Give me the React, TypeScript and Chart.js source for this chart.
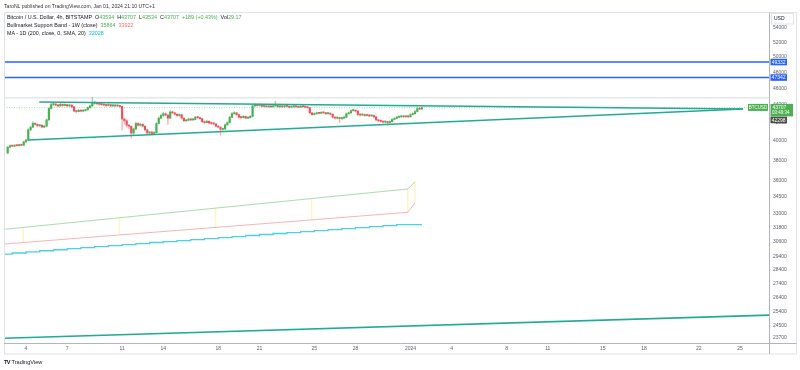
import React, { useEffect, useRef } from "react";
import { Chart, registerables } from "chart.js";
Chart.register(...registerables);

// ---- Candles (4h bars, BTC/USD Bitstamp) ----
const firstOpen = 38750;
const closes = [
  39350, 39500, 39450, 39550, 39500, 39600, 39550, 39900, 40100, 41200,
  41500, 41900, 41800, 41650, 41700, 41500, 41600, 42300, 43600, 44050,
  44100, 44000, 43900, 44100, 43950, 44050, 43900, 44000, 43800, 43300,
  43250, 43400, 43300, 43350, 43450, 43700, 43900, 44200, 44300, 44150,
  44100, 44050, 44000, 43950, 44050, 43900, 44000, 43900, 43950, 43850,
  42400, 42200, 41700, 41600, 40850, 41300, 41900, 41700, 41800, 41600,
  41200, 40850, 40950, 40800, 40900, 41900, 42500, 42800, 43000, 42850,
  42500, 43200, 43100, 42950, 42800, 42900, 42500, 42200, 42250, 42400,
  42300, 42350, 42600, 42550, 42450, 42100, 42000, 42150, 41950, 41900,
  41850, 41600, 41500, 41250, 41300, 41750, 42000, 42600, 43000, 43100,
  42900, 42600, 42550, 42700, 42500, 42550, 42700, 43900, 44000, 43950,
  44050, 43850, 43900, 43800, 43850, 43800, 43900, 43950, 43800, 43850,
  43800, 43900, 43850, 43750, 43800, 43850, 43800, 43750, 43850, 43800,
  43750, 43700, 43100, 42900, 43000, 43100, 43050, 43150, 43100, 43000,
  43050, 42950, 42600, 42500, 42550, 42450, 42500, 42600, 43000, 43100,
  43350, 43400, 43300, 42900, 42850, 42900, 42800, 42850, 42750, 42800,
  42650, 42300, 42200, 42150, 42050, 42100, 42000, 42100, 42350, 42450,
  42600, 42650, 42700, 42650, 42700, 42650, 42900, 43000, 43250, 43600,
  43534, 43707,
];
const highs = [
  39420, 39580, 39560, 39620, 39600, 39680, 39650, 39980, 40200, 41350,
  41600, 42100, 42000, 41850, 41800, 41750, 41700, 42400, 43700, 44200,
  44250, 44200, 44100, 44200, 44150, 44150, 44100, 44100, 44050, 43850,
  43400, 43500, 43450, 43450, 43550, 43800, 44000, 44900, 44450, 44350,
  44250, 44200, 44150, 44100, 44150, 44100, 44100, 44050, 44050, 44000,
  43900, 42500, 42300, 41800, 41650, 41400, 42050, 42000, 41950, 41900,
  41650, 41250, 41050, 41050, 41000, 42000, 42650, 42950, 43200, 43100,
  42900, 43350, 43300, 43150, 43000, 43000, 42950, 42550, 42350, 42500,
  42450, 42450, 42700, 42700, 42600, 42500, 42200, 42250, 42200, 42050,
  42000, 41900, 41700, 41550, 41400, 41850, 42100, 42700, 43150, 43250,
  43150, 42950, 42700, 42800, 42750, 42650, 42800, 44000, 44150, 44100,
  44150, 44100, 44000, 43950, 43950, 43900, 44000, 44450, 44000, 43950,
  43900, 44000, 43950, 43900, 43900, 43950, 43900, 43850, 43950, 43900,
  43850, 43800, 43750, 43150, 43100, 43200, 43150, 43250, 43200, 43150,
  43150, 43100, 43000, 42650, 42650, 42600, 42600, 42700, 43100, 43200,
  43450, 43500, 43450, 43350, 42950, 43000, 42950, 42950, 42900, 42900,
  42850, 42700, 42350, 42300, 42200, 42200, 42150, 42200, 42450, 42550,
  42700, 42750, 42800, 42750, 42800, 42750, 43000, 43100, 43350, 43750,
  43650, 43707,
];
const lows = [
  38650, 39300, 39400, 39400, 39450, 39450, 39480, 39500, 39850, 40050,
  41100, 41450, 41700, 41500, 41550, 41400, 41450, 41550, 42250, 43550,
  43950, 43900, 43800, 43850, 43850, 43900, 43800, 43850, 43700, 43200,
  43100, 43200, 43200, 43250, 43300, 43400, 43650, 43850, 44100, 44050,
  44000, 43950, 43900, 43850, 43900, 43800, 43850, 43800, 43850, 43750,
  41200, 41800, 41500, 41300, 40300, 40700, 41200, 41600, 41600, 41500,
  41100, 40700, 40750, 40650, 40700, 40850, 41850, 42400, 42700, 42750,
  41800, 42450, 43000, 42850, 42700, 42700, 42400, 42100, 42100, 42200,
  42200, 42250, 42300, 42450, 42350, 42000, 41900, 41950, 41850, 41800,
  41750, 41500, 41400, 40600, 41150, 41250, 41700, 41950, 42550, 42950,
  42800, 42500, 42450, 42500, 42400, 42450, 42500, 42650, 43850, 43850,
  43900, 43800, 43800, 43750, 43750, 43700, 43750, 43850, 43750, 43750,
  43700, 43750, 43800, 43700, 43700, 43750, 43750, 43700, 43700, 43750,
  43700, 43650, 43000, 42800, 42850, 42950, 42950, 43000, 43050, 42900,
  42950, 42900, 42500, 42400, 42400, 42000, 42350, 42450, 42550, 42950,
  43050, 43300, 43200, 42800, 42750, 42800, 42700, 42750, 42650, 42700,
  42550, 42200, 42100, 42050, 41950, 42000, 41700, 41950, 42050, 42300,
  42400, 42550, 42600, 42550, 42600, 42550, 42600, 42850, 42950, 43200,
  43450, 43534,
];
// time axis: days since Dec 1 2023 00:00
const barStartDay = 1 + 16 / 24; // Dec 2 16:00
const barHours = 4;

// ---- Axis ----
const xMin = 1.398;
const xMax = 57.11;
const yMin = 23385;
const yMax = 56345;
const xTickDays = [3, 6, 10, 13, 17, 20, 24, 27, 31, 34, 38, 41, 45, 48, 52, 55];
const xTickLabels = ["4", "7", "11", "14", "18", "21", "25", "28", "2024", "4", "8", "11", "15", "18", "22", "25"];
const yTickValues = [54000, 52000, 50000, 48000, 46000, 44000, 42000, 40000, 38000, 36000, 34500, 33000, 31800, 30600, 29400, 28400, 27400, 26400, 25400, 24500, 23700];

// ---- Indicators ----
const maDays = [0, 1, 2, 3, 4, 5, 6, 7, 8, 9, 10, 11, 12, 13, 14, 15, 16, 17, 18, 19, 20, 21, 22, 23, 24, 25, 26, 27, 28, 29, 30, 31, 31.833];
const maValues = [29450, 29540, 29615, 29700, 29790, 29880, 29960, 30045, 30130, 30210, 30290, 30370, 30455, 30540, 30620, 30700, 30780, 30860, 30945, 31030, 31115, 31200, 31280, 31360, 31440, 31520, 31605, 31690, 31775, 31860, 31945, 32028, 32028];
const bandDays = [1.398, 2.8, 9.8, 16.8, 23.8, 30.8, 31.33];
const bandGreen = [31634, 31790, 32615, 33460, 34323, 35208, 35864];
const bandRed = [30420, 30540, 31158, 31790, 32432, 33096, 33922];

// ---- Drawings ----
const upperDays = [3.97, 55.22];
const upperPrices = [44361, 43546];
const lowerDays = [3.146, 55.22];
const lowerPrices = [40100, 43546];
const baseDays = [1.398, 57.11];
const basePrices = [23680, 25180];
const blueLevels = [49332, 47342];
const faintLevel = 44850;
const lastPrice = 43707;
const greyTag = 42298;
const countdown = "03:49:34";

const UP = "#4caf50";
const DOWN = "#f0505a";
const TEAL = "#22ab94";
const FONT = '"Liberation Sans", Arial, sans-serif';

const overlayPlugin = {
  id: "overlay",
  afterDraw(chart: any) {
    const { ctx, scales } = chart;
    const ys = scales.y;
    ctx.save();
    ctx.lineWidth = 1;
    ctx.strokeStyle = "#e0e3eb";
    ctx.strokeRect(4.5, 12.5, 792, 341.5);
    ctx.strokeStyle = "#b2b5be";
    ctx.beginPath();
    ctx.moveTo(769.5, 12.5);
    ctx.lineTo(769.5, 354);
    ctx.moveTo(4, 343.5);
    ctx.lineTo(796.5, 343.5);
    ctx.stroke();
    // USD box
    ctx.fillStyle = "#ffffff";
    ctx.fillRect(771, 13.5, 22, 10.5);
    ctx.strokeStyle = "#e0e3eb";
    ctx.strokeRect(771.5, 13.5, 22, 10.5);
    ctx.fillStyle = "#131722";
    ctx.font = `5px ${FONT}`;
    ctx.textBaseline = "middle";
    ctx.textAlign = "left";
    ctx.fillText("USD", 774, 19);

    const tag = (v: number, bg: string, t: string) => {
      const py = ys.getPixelForValue(v);
      ctx.fillStyle = bg;
      ctx.fillRect(770.5, py - 3.3, 16.5, 6.6);
      ctx.fillStyle = "#ffffff";
      ctx.textAlign = "center";
      ctx.fillText(t, 778.7, py + 0.2);
    };
    blueLevels.forEach((v) => tag(v, "#2962ff", String(v)));
    tag(greyTag, "#4a4a4a", String(greyTag));
    // last price tag with countdown
    const py = ys.getPixelForValue(lastPrice);
    ctx.fillStyle = UP;
    ctx.fillRect(770.5, py - 3.7, 22.5, 12.5);
    ctx.fillStyle = "#ffffff";
    ctx.textAlign = "left";
    ctx.fillText(String(lastPrice), 772.5, py + 0.2);
    ctx.font = `4.5px ${FONT}`;
    ctx.fillText(countdown, 772, py + 5.6);
    // symbol label
    ctx.fillStyle = UP;
    ctx.fillRect(748, py - 3.7, 20, 7);
    ctx.fillStyle = "#ffffff";
    ctx.textAlign = "center";
    ctx.font = `4.5px ${FONT}`;
    ctx.fillText("BTCUSD", 758, py);
    ctx.restore();
  },
};

function pts(xs: number[], ys: number[]) {
  return xs.map((x, i) => ({ x, y: ys[i] }));
}

function Legend() {
  const base: React.CSSProperties = {
    position: "absolute",
    left: 7,
    fontFamily: FONT,
    fontSize: "5.4px",
    lineHeight: "6px",
    whiteSpace: "nowrap",
    color: "#131722",
  };
  const g = { color: UP };
  return (
    <>
      <div style={{ ...base, left: 4, top: 3, fontSize: "5.1px", color: "#333" }}>
        TaroNL published on TradingView.com, Jan 01, 2024 21:10 UTC+1
      </div>
      <div style={{ ...base, top: 14.3 }}>
        Bitcoin / U.S. Dollar, 4h, BITSTAMP&nbsp; O<span style={g}>43534</span>&nbsp; H<span style={g}>43707</span>&nbsp; L<span style={g}>43534</span>&nbsp; C<span style={g}>43707</span>&nbsp; <span style={g}>+189 (+0.43%)</span>&nbsp; Vol<span style={g}>29.17</span>
      </div>
      <div style={{ ...base, top: 21.7 }}>
        Bullmarket Support Band - 1W (close)&nbsp; <span style={{ color: "#4caf50" }}>35864</span>&nbsp; <span style={{ color: "#f26b6b" }}>33922</span>
      </div>
      <div style={{ ...base, top: 29.7 }}>
        MA - 1D (200, close, 0, SMA, 20)&nbsp; <span style={{ color: "#00bcd4" }}>32028</span>
      </div>
      <div style={{ ...base, left: 4, top: 359, fontSize: "5.6px", color: "#131722" }}>
        <span style={{ fontWeight: 900, letterSpacing: "-0.6px" }}>TV</span>&nbsp;TradingView
      </div>
    </>
  );
}

export default function App() {
  const ref = useRef<HTMLCanvasElement | null>(null);
  useEffect(() => {
    document.body.style.margin = "0";
    const canvas = ref.current;
    if (!canvas) return;
    const opens = closes.map((c, i) => (i === 0 ? firstOpen : closes[i - 1]));
    const days = closes.map((_, i) => barStartDay + (i * barHours) / 24);
    const colors = closes.map((c, i) => (c >= opens[i] ? UP : DOWN));
    const wickColors = closes.map((c, i) => (c >= opens[i] ? "rgba(76,175,80,0.55)" : "rgba(240,80,90,0.45)"));
    const hline = (v: number) => [
      { x: xMin, y: v },
      { x: xMax, y: v },
    ];
    const line = (data: any[], color: string, width: number, extra: any = {}) => ({
      type: "line",
      data,
      borderColor: color,
      borderWidth: width,
      pointRadius: 0,
      fill: false,
      tension: 0,
      ...extra,
    });
    const chart = new Chart(canvas, {
      type: "line",
      data: {
        datasets: [
          line(hline(faintLevel), "rgba(200,202,208,0.7)", 1, { order: 5 }),
          line(hline(lastPrice), "rgba(76,175,80,0.45)", 1, { order: 5, borderDash: [1, 1.5] }),
          line(hline(blueLevels[0]), "#2962ff", 1.4, { order: 1 }),
          line(hline(blueLevels[1]), "#2962ff", 1.4, { order: 1 }),
          {
            type: "bar",
            data: bandDays.slice(1).map((d, i) => ({ x: d, y: [bandRed[i + 1], bandGreen[i + 1]] })),
            backgroundColor: "rgba(255,238,150,0.6)",
            barThickness: 0.8,
            grouped: false,
            order: 4,
          },
          line(pts(bandDays, bandGreen), "rgba(120,195,120,0.6)", 1, { order: 3 }),
          line(pts(bandDays, bandRed), "rgba(245,130,130,0.6)", 1, { order: 3 }),
          line(pts(maDays, maValues), "#4dd0e1", 1.3, { order: 3, stepped: "after" }),
          {
            type: "bar",
            data: closes.map((c, i) => ({ x: days[i], y: [lows[i], highs[i]] })),
            backgroundColor: wickColors,
            barThickness: 0.7,
            grouped: false,
            order: 2,
          },
          {
            type: "bar",
            data: closes.map((c, i) => ({ x: days[i], y: [opens[i], c] })),
            backgroundColor: colors,
            barThickness: 1.5,
            minBarLength: 1,
            grouped: false,
            order: 2,
          },
          line(pts(upperDays, upperPrices), TEAL, 1.6, { order: 0 }),
          line(pts(lowerDays, lowerPrices), TEAL, 1.6, { order: 0 }),
          line(pts(baseDays, basePrices), TEAL, 1.6, { order: 0 }),
        ] as any,
      },
      options: {
        animation: false,
        responsive: false,
        events: [],
        layout: { padding: { left: 4, top: 12, right: 3, bottom: 16 } },
        plugins: { legend: { display: false }, tooltip: { enabled: false }, title: { display: false } },
        scales: {
          x: {
            type: "linear",
            min: xMin,
            max: xMax,
            bounds: "data",
            offset: false,
            grid: { display: false, drawTicks: false },
            border: { display: false },
            afterBuildTicks: (s: any) => {
              s.ticks = xTickDays.map((v) => ({ value: v }));
            },
            afterFit: (s: any) => {
              s.height = 11;
            },
            ticks: {
              autoSkip: false,
              maxRotation: 0,
              padding: 2.5,
              color: "#5d606b",
              font: { size: 5, family: FONT },
              callback: (v: any) => {
                const i = xTickDays.indexOf(Number(v));
                return i >= 0 ? xTickLabels[i] : "";
              },
            },
          },
          y: {
            type: "logarithmic",
            position: "right",
            min: yMin,
            max: yMax,
            bounds: "data",
            grid: { display: false, drawTicks: false },
            border: { display: false },
            afterBuildTicks: (s: any) => {
              s.ticks = yTickValues.map((v) => ({ value: v }));
            },
            afterFit: (s: any) => {
              s.width = 28;
            },
            ticks: {
              autoSkip: false,
              padding: 4,
              color: "#5d606b",
              font: { size: 5, family: FONT },
              callback: (v: any) => String(v),
            },
          },
        },
      },
      plugins: [overlayPlugin],
    } as any);
    return () => chart.destroy();
  }, []);
  return (
    <div style={{ position: "relative", width: 800, height: 370, background: "#fff", overflow: "hidden" }}>
      <canvas ref={ref} width={800} height={370} style={{ display: "block", width: 800, height: 370 }} />
      <Legend />
    </div>
  );
}
